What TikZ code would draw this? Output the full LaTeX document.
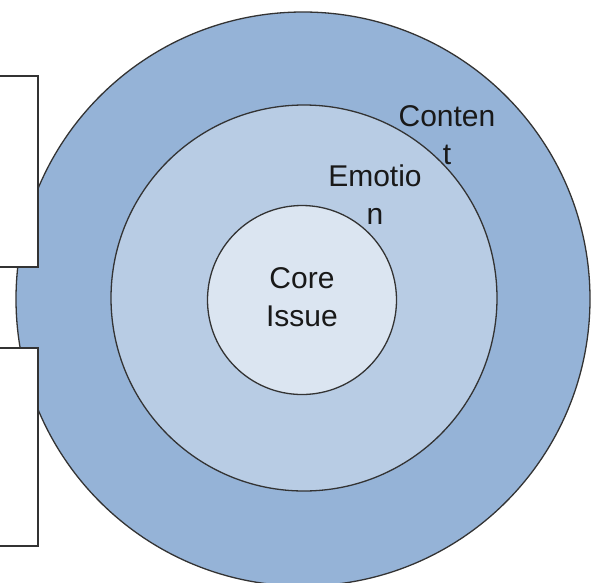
\documentclass[tikz,border=0pt]{standalone}
\usepackage{fontspec}
\setmainfont{Liberation Sans}
\usepackage{tikz}
\usetikzlibrary{positioning}

\definecolor{outerblue}{HTML}{95B3D7}
\definecolor{midblue}{HTML}{B8CCE4}
\definecolor{innerblue}{HTML}{DBE5F1}
\definecolor{edgegray}{HTML}{333333}

\begin{document}
\begin{tikzpicture}[
    x=1pt, y=-1pt,
    ring/.style={circle, draw=edgegray, line width=1.3pt, inner sep=0pt},
    label/.style={align=center, inner sep=0pt, font=\fontsize{30}{38}\selectfont, text=black!90},
    panel/.style={draw=edgegray, fill=white, line width=1.5pt}
]
\useasboundingbox (0,0) rectangle (597,582);

\node[ring, fill=outerblue, minimum size=574pt] (outer) at (303,299) {};
\node[ring, fill=midblue, minimum size=386pt] (middle) at (304,298) {};
\node[ring, fill=innerblue, minimum size=189pt] (inner) at (302,300) {};

% boxes at the left edge
\draw[panel] (-5,76) rectangle (38,267);
\draw[panel] (-5,348) rectangle (38,546);

\node[label] (content) at (447,135) {Conten\\t};
\node[label] (emotion) at (375,195) {Emotio\\n};
\node[label] (core) at (302,297) {Core\\Issue};
\end{tikzpicture}
\end{document}
